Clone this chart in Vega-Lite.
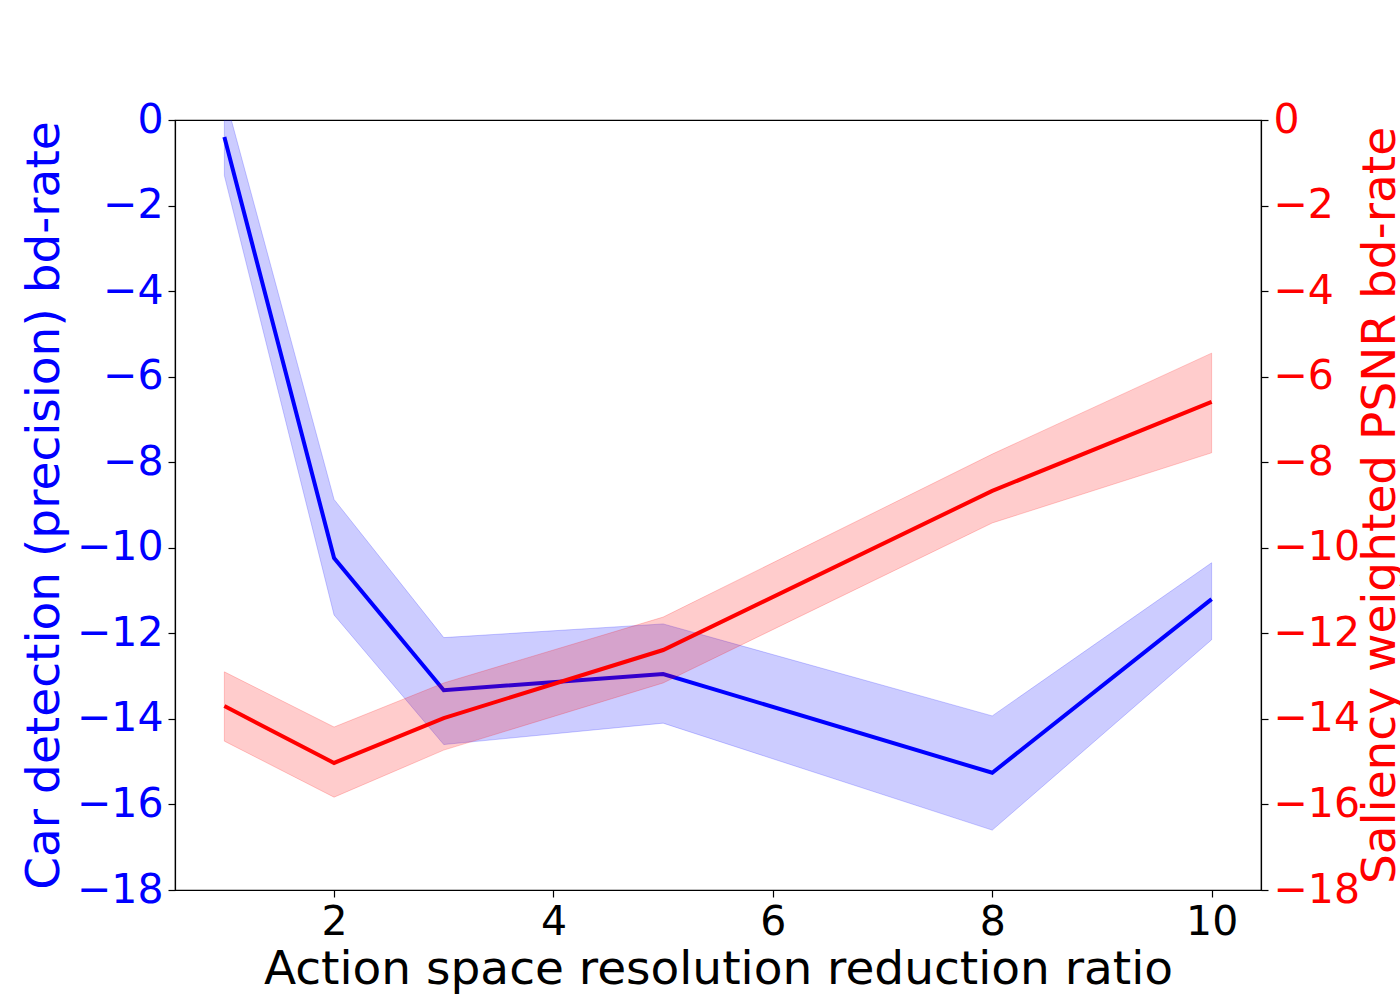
{
  "$schema": "https://vega.github.io/schema/vega-lite/v6.json",
  "autosize": "none",
  "width": 1086,
  "height": 770,
  "padding": {"left": 175, "top": 120, "right": 139, "bottom": 110},
  "background": "white",
  "config": {
    "font": "DejaVu Sans",
    "view": {"stroke": "black", "strokeWidth": 1.2},
    "axis": {
      "grid": false,
      "domainColor": "black",
      "domainWidth": 1.2,
      "tickColor": "black",
      "tickWidth": 1.2,
      "tickSize": 7,
      "labelPadding": 5,
      "labelFontSize": 41,
      "labelFont": "DejaVu Sans",
      "titleFont": "DejaVu Sans",
      "titleFontSize": 47,
      "titleFontWeight": "normal",
      "labelFlush": false,
      "labelOverlap": false
    }
  },
  "data": {
    "values": [
      {"ratio": 1, "car": -0.4, "car_lo": -1.3, "car_hi": 0.6, "sal": -13.7, "sal_lo": -14.52, "sal_hi": -12.9},
      {"ratio": 2, "car": -10.24, "car_lo": -11.57, "car_hi": -8.87, "sal": -15.03, "sal_lo": -15.83, "sal_hi": -14.19},
      {"ratio": 3, "car": -13.33, "car_lo": -14.6, "car_hi": -12.1, "sal": -13.98, "sal_lo": -14.73, "sal_hi": -13.16},
      {"ratio": 5, "car": -12.95, "car_lo": -14.1, "car_hi": -11.78, "sal": -12.39, "sal_lo": -13.16, "sal_hi": -11.62},
      {"ratio": 8, "car": -15.26, "car_lo": -16.6, "car_hi": -13.93, "sal": -8.67, "sal_lo": -9.42, "sal_hi": -7.81},
      {"ratio": 10, "car": -11.2, "car_lo": -12.15, "car_hi": -10.35, "sal": -6.59, "sal_lo": -7.78, "sal_hi": -5.45}
    ]
  },
  "encoding": {
    "x": {
      "field": "ratio",
      "type": "quantitative",
      "scale": {"domain": [0.55, 10.45], "nice": false, "zero": false},
      "axis": {
        "values": [2, 4, 6, 8, 10],
        "format": "d",
        "title": "Action space resolution reduction ratio",
        "titleColor": "black",
        "labelColor": "black",
        "titlePadding": 4
      }
    }
  },
  "layer": [
    {
      "layer": [
        {
          "mark": {"type": "area", "clip": true, "color": "#0000ff", "fillOpacity": 0.2, "stroke": "#0000ff", "strokeOpacity": 0.2, "strokeWidth": 1},
          "encoding": {
            "y": {
              "field": "car_lo",
              "type": "quantitative",
              "scale": {"domain": [-18, 0], "nice": false, "zero": false},
              "axis": {
                "orient": "left",
                "values": [0, -2, -4, -6, -8, -10, -12, -14, -16, -18],
                "format": "d",
                "title": "Car detection (precision) bd-rate",
                "titleColor": "#0000ff",
                "labelColor": "#0000ff",
                "titlePadding": 8
              }
            },
            "y2": {"field": "car_hi"}
          }
        },
        {
          "mark": {"type": "line", "clip": true, "color": "#0000ff", "strokeWidth": 4},
          "encoding": {
            "y": {
              "field": "car",
              "type": "quantitative",
              "scale": {"domain": [-18, 0], "nice": false, "zero": false},
              "axis": {
                "orient": "left",
                "values": [0, -2, -4, -6, -8, -10, -12, -14, -16, -18],
                "format": "d",
                "title": "Car detection (precision) bd-rate",
                "titleColor": "#0000ff",
                "labelColor": "#0000ff",
                "titlePadding": 8
              }
            }
          }
        }
      ]
    },
    {
      "layer": [
        {
          "mark": {"type": "area", "clip": true, "color": "#ff0000", "fillOpacity": 0.2, "stroke": "#ff0000", "strokeOpacity": 0.2, "strokeWidth": 1},
          "encoding": {
            "y": {
              "field": "sal_lo",
              "type": "quantitative",
              "scale": {"domain": [-18, 0], "nice": false, "zero": false},
              "axis": {
                "orient": "right",
                "values": [0, -2, -4, -6, -8, -10, -12, -14, -16, -18],
                "format": "d",
                "title": "Saliency weighted PSNR bd-rate",
                "titleColor": "#ff0000",
                "labelColor": "#ff0000",
                "titleAngle": 270,
                "titleBaseline": "top",
                "titlePadding": -2
              }
            },
            "y2": {"field": "sal_hi"}
          }
        },
        {
          "mark": {"type": "line", "clip": true, "color": "#ff0000", "strokeWidth": 4},
          "encoding": {
            "y": {
              "field": "sal",
              "type": "quantitative",
              "scale": {"domain": [-18, 0], "nice": false, "zero": false},
              "axis": {
                "orient": "right",
                "values": [0, -2, -4, -6, -8, -10, -12, -14, -16, -18],
                "format": "d",
                "title": "Saliency weighted PSNR bd-rate",
                "titleColor": "#ff0000",
                "labelColor": "#ff0000",
                "titleAngle": 270,
                "titleBaseline": "top",
                "titlePadding": -2
              }
            }
          }
        }
      ]
    }
  ],
  "resolve": {"scale": {"y": "independent"}}
}
